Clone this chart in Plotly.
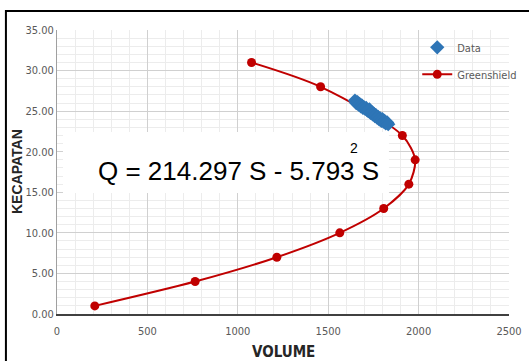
import plotly.graph_objects as go

# Greenshield model points (volume, speed)
gs_volume = [209, 764, 1216, 1564, 1807, 1946, 1981, 1910, 1458, 1076]
gs_speed = [1, 4, 7, 10, 13, 16, 19, 22, 28, 31]

# Observed data (volume, speed)
data_volume = [1648, 1655, 1662, 1668, 1673, 1680, 1686, 1692, 1697, 1703, 1710, 1716,
               1722, 1728, 1734, 1740, 1746, 1752, 1758, 1764, 1770, 1776, 1782, 1788,
               1794, 1800, 1806, 1812, 1818, 1826, 1832]
data_speed = [26.3, 26.0, 26.1, 25.8, 25.9, 25.6, 25.7, 25.4, 25.5, 25.3, 25.4, 25.1,
              25.0, 25.2, 24.8, 24.9, 24.6, 24.7, 24.4, 24.5, 24.2, 24.3, 24.0, 24.1,
              23.8, 24.0, 23.7, 23.8, 23.5, 23.6, 23.4]

x_ticks = [0, 500, 1000, 1500, 2000, 2500]
y_ticks = [0, 5, 10, 15, 20, 25, 30, 35]

equation = "Q = 214.297 S - 5.793 S"

NARROW = "DejaVu Sans Condensed, Liberation Sans Narrow, Arial Narrow, sans-serif"
ARIAL = "Liberation Sans, Arial, sans-serif"

fig = go.Figure()
fig.add_trace(go.Scatter(
    x=gs_volume, y=gs_speed, mode="lines+markers", name="Greenshield", legendrank=2,
    legendgroup="g",
    line=dict(color="#c00000", width=2, shape="spline", smoothing=0.8),
    marker=dict(symbol="circle", size=9, color="#c00000"),
))
fig.add_trace(go.Scatter(
    x=data_volume, y=data_speed, mode="markers", name="Data", legendrank=1,
    legendgroup="d",
    marker=dict(symbol="diamond", size=11, color="#2e75b6"),
))

fig.update_layout(
    width=529, height=361,
    margin=dict(l=57, r=20, t=30, b=47, autoexpand=False),
    paper_bgcolor="white", plot_bgcolor="white",
    showlegend=True,
    legend=dict(x=0.797, y=0.99, xanchor="left", yanchor="top", traceorder="grouped",
                bgcolor="rgba(0,0,0,0)", font=dict(family=NARROW, size=11, color="#595959"),
                tracegroupgap=8, itemwidth=30),
    xaxis=dict(range=[0, 2500], tickvals=x_ticks, showgrid=True, gridcolor="#d0d0d0",
               gridwidth=1, minor=dict(dtick=100, showgrid=True, gridcolor="#ececec"),
               showline=True, linecolor="#404040", linewidth=1.5, zeroline=False,
               tickfont=dict(family=NARROW, size=11, color="#595959"), ticks="",
               ticklabelstandoff=6, automargin=False),
    yaxis=dict(range=[0, 35], tickvals=y_ticks, tickformat=".2f", showgrid=True,
               gridcolor="#d0d0d0", gridwidth=1,
               minor=dict(dtick=1, showgrid=True, gridcolor="#ececec"),
               showline=True, linecolor="#a0a0a0", linewidth=1, zeroline=False,
               tickfont=dict(family=NARROW, size=11, color="#595959"), ticks="",
               automargin=False),
)

# axis titles
fig.add_annotation(x=(283 - 57) / 452, y=(314 - 352) / 284, xref="paper", yref="paper",
                   text="<b>VOLUME</b>", showarrow=False, xanchor="center", yanchor="middle",
                   font=dict(family=NARROW, size=15, color="#262626"))
fig.add_annotation(x=(17 - 57) / 452, y=(314 - 172) / 284, xref="paper", yref="paper",
                   text="<b>KECAPATAN</b>", showarrow=False, xanchor="center", yanchor="middle",
                   textangle=-90, font=dict(family=ARIAL, size=14, color="#262626"))

# outer frame
fig.add_shape(type="rect", xref="paper", yref="paper", x0=-0.113, x1=1.2, y0=-0.3, y1=1.067,
              line=dict(color="black", width=2), fillcolor="rgba(0,0,0,0)", layer="above")
# equation box
fig.add_shape(type="rect", xref="x", yref="y", x0=33, x1=1836, y0=14.91, y1=22.43,
              line=dict(width=0), fillcolor="white", layer="above")
fig.add_annotation(x=215, y=17.65, xref="x", yref="y", text=equation, showarrow=False,
                   xanchor="left", yanchor="middle",
                   font=dict(family=ARIAL, size=26, color="black"))
fig.add_annotation(x=1608, y=20.45, xref="x", yref="y", text="2", showarrow=False,
                   xanchor="left", yanchor="middle",
                   font=dict(family=ARIAL, size=14, color="black"))

fig.write_html("out.html", config={"displayModeBar": False},
               post_script="document.body.style.margin='0px';document.body.style.overflow='hidden';")
